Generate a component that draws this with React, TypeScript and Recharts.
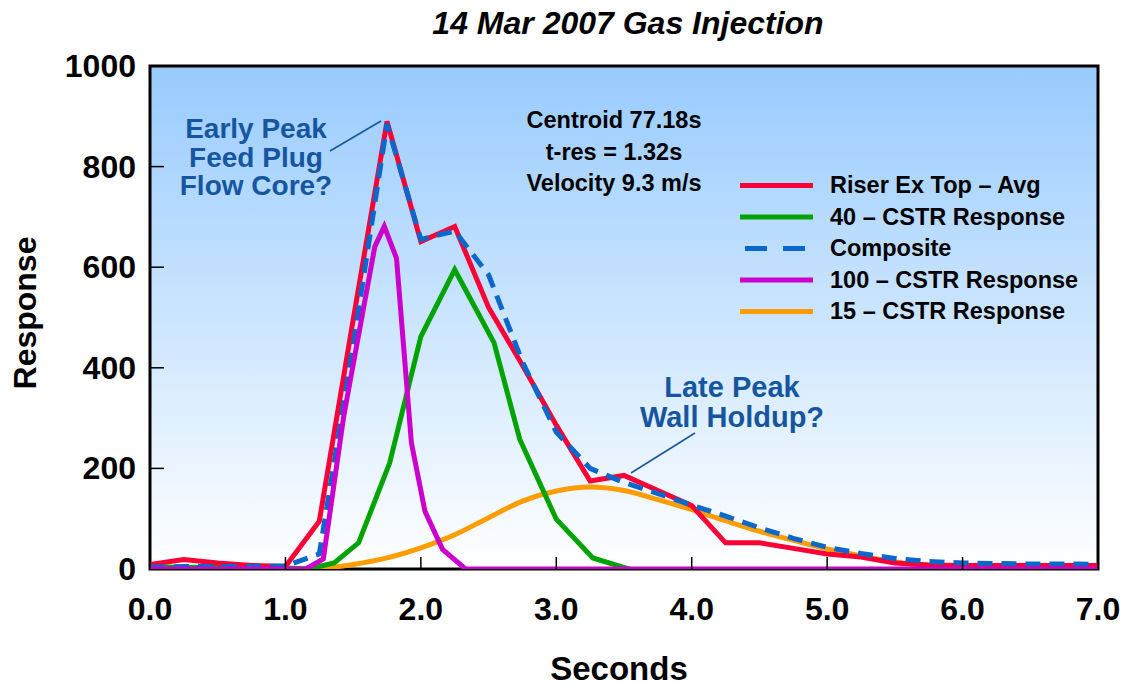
import { LineChart, Line, XAxis, YAxis } from 'recharts';

// sample times (s) shared by the measured trace, the composite and the 15-CSTR model
const grid = [0, 0.25, 0.5, 0.75, 1, 1.25, 1.5, 1.75, 2, 2.25, 2.5, 2.75, 3, 3.25, 3.5, 3.75, 4, 4.25, 4.5, 4.75, 5, 5.25, 5.5, 5.75, 6, 6.25, 6.5, 6.75, 7];

const riserAvg = [9, 19, 12, 7, 5, 95, 495, 890, 651, 681, 520, 405, 286, 175, 186, 156, 126, 52, 52, 41, 30, 24, 12, 8, 7, 7, 7, 7, 7];
const composite = [4, 5, 5, 5, 6, 30, 445, 885, 655, 672, 585, 412, 272, 200, 172, 150, 127, 105, 82, 61, 43, 31, 21, 15, 12, 11, 10, 10, 9];
const cstr15 = [0, 0, 0, 0, 0, 1, 9, 22, 42, 68, 102, 135, 155, 163, 156, 138, 118, 96, 75, 57, 40, 26, 14, 7, 4, 3, 2, 1, 1];

const cstr40T = [0, 1, 1.17, 1.36, 1.54, 1.77, 2, 2.25, 2.54, 2.73, 3, 3.27, 3.57, 4, 5, 6, 7];
const cstr40 = [4, 2, 0, 12, 52, 211, 462, 595, 450, 258, 99, 22, -3, -3, -2, 0, 0];

const cstr100T = [0, 1.15, 1.28, 1.43, 1.66, 1.73, 1.82, 1.93, 2.03, 2.16, 2.33, 7];
const cstr100 = [0, 0, 20, 303, 641, 681, 618, 251, 115, 39, 0, 0];

const xTicks = [0, 1, 2, 3, 4, 5, 6, 7];
const yTicks = [0, 200, 400, 600, 800, 1000];

const RED = '#fa0036';
const GREEN = '#00a300';
const BLUE = '#0a68cc';
const PURPLE = '#cc00cc';
const ORANGE = '#ff9c00';
const NOTE = '#1656a0';
const FONT = '"Liberation Sans", Arial, Helvetica, sans-serif';

const toPoints = (xs: number[], ys: number[]) => xs.map((x, i) => ({ x, y: ys[i] }));

const legendItems = [
  { name: 'Riser Ex Top \u2013 Avg', color: RED, dash: undefined },
  { name: '40 \u2013 CSTR Response', color: GREEN, dash: undefined },
  { name: 'Composite', color: BLUE, dash: '22 16' },
  { name: '100 \u2013 CSTR Response', color: PURPLE, dash: undefined },
  { name: '15 \u2013 CSTR Response', color: ORANGE, dash: undefined },
];

function XTick(props: any) {
  const { x, y, payload } = props;
  return (
    <g>
      <line x1={x} y1={y} x2={x} y2={y - 12} stroke="#000" strokeWidth={1.5} />
      <text x={x} y={y + 51} textAnchor="middle" fontFamily={FONT} fontWeight="bold" fontSize={32} fill="#000">
        {Number(payload.value).toFixed(1)}
      </text>
    </g>
  );
}

function YTick(props: any) {
  const { x, y, payload } = props;
  return (
    <g>
      {payload.value > 0 && payload.value < 1000 && (
        <line x1={x} y1={y} x2={x + 14} y2={y} stroke="#000" strokeWidth={1.5} />
      )}
      <text x={x - 14} y={y + 11} textAnchor="end" fontFamily={FONT} fontWeight="bold" fontSize={32} fill="#000">
        {payload.value}
      </text>
    </g>
  );
}

export default function App() {
  const plot = { left: 150, top: 66, right: 1098, bottom: 569 };
  return (
    <div style={{ position: 'absolute', left: 0, top: 0, width: 1126, height: 686, background: '#fff' }}>
      <svg width={1126} height={686} style={{ position: 'absolute', left: 0, top: 0 }}>
        <defs>
          <linearGradient id="plotBg" x1="0" y1="0" x2="0" y2="1">
            <stop offset="0%" stopColor="#98cbfe" />
            <stop offset="100%" stopColor="#ffffff" />
          </linearGradient>
        </defs>
        <rect
          x={plot.left}
          y={plot.top}
          width={plot.right - plot.left}
          height={plot.bottom - plot.top}
          fill="url(#plotBg)"
          stroke="#000"
          strokeWidth={3}
        />
      </svg>

      <div style={{ position: 'absolute', left: 0, top: 0 }}>
        <LineChart width={1126} height={686} margin={{ top: 66, right: 28, bottom: 0, left: 0 }}>
          <XAxis
            type="number"
            dataKey="x"
            domain={[0, 7]}
            ticks={xTicks}
            allowDataOverflow
            axisLine={false}
            tickLine={false}
            tickSize={0}
            tickMargin={0}
            height={117}
            tick={XTick}
            interval={0}
          />
          <YAxis
            type="number"
            domain={[0, 1000]}
            ticks={yTicks}
            allowDataOverflow
            axisLine={false}
            tickLine={false}
            tickSize={0}
            tickMargin={0}
            width={150}
            tick={YTick}
            interval={0}
          />
          <Line data={toPoints(grid, cstr15)} dataKey="y" type="monotone" stroke={ORANGE} strokeWidth={5} dot={false} isAnimationActive={false} />
          <Line data={toPoints(cstr40T, cstr40)} dataKey="y" type="linear" stroke={GREEN} strokeWidth={5} dot={false} isAnimationActive={false} />
          <Line data={toPoints(grid, riserAvg)} dataKey="y" type="linear" stroke={RED} strokeWidth={5} dot={false} isAnimationActive={false} />
          <Line data={toPoints(grid, composite)} dataKey="y" type="linear" stroke={BLUE} strokeWidth={5} strokeDasharray="15 9" dot={false} isAnimationActive={false} />
          <Line data={toPoints(cstr100T, cstr100)} dataKey="y" type="linear" stroke={PURPLE} strokeWidth={5} dot={false} isAnimationActive={false} />
        </LineChart>
      </div>

      <svg width={1126} height={686} style={{ position: 'absolute', left: 0, top: 0, pointerEvents: 'none' }} fontFamily={FONT} fontWeight="bold">
        <text x={628} y={34} textAnchor="middle" fontSize={32} fontStyle="italic" fill="#000">
          14 Mar 2007 Gas Injection
        </text>
        <text x={619} y={680} textAnchor="middle" fontSize={33} fill="#000">
          Seconds
        </text>
        <text transform="translate(36,313) rotate(-90)" textAnchor="middle" fontSize={32} fill="#000">
          Response
        </text>

        <g fontSize={23.5} fill="#000" textAnchor="middle">
          <text x={614} y={128}>Centroid 77.18s</text>
          <text x={614} y={160}>t-res = 1.32s</text>
          <text x={614} y={191}>Velocity 9.3 m/s</text>
        </g>

        <g fontSize={28} fill={NOTE} textAnchor="middle">
          <text x={256} y={138}>Early Peak</text>
          <text x={256} y={167}>Feed Plug</text>
          <text x={256} y={195}>Flow Core?</text>
        </g>
        <g fontSize={29} fill={NOTE} textAnchor="middle">
          <text x={732} y={397}>Late Peak</text>
          <text x={732} y={427}>Wall Holdup?</text>
        </g>
        <line x1={330} y1={151} x2={381} y2={121} stroke={NOTE} strokeWidth={1.5} />
        <line x1={695} y1={433} x2={631} y2={473} stroke={NOTE} strokeWidth={1.5} />

        {legendItems.map((item, i) => {
          const base = 193 + i * 31.5;
          return (
            <g key={item.name}>
              <line
                x1={item.dash ? 745 : 740}
                x2={item.dash ? 805 : 813}
                y1={base - 7.5}
                y2={base - 7.5}
                stroke={item.color}
                strokeWidth={5}
                strokeDasharray={item.dash}
              />
              <text x={830} y={base} fontSize={23.5} fill="#000">
                {item.name}
              </text>
            </g>
          );
        })}
      </svg>
    </div>
  );
}
